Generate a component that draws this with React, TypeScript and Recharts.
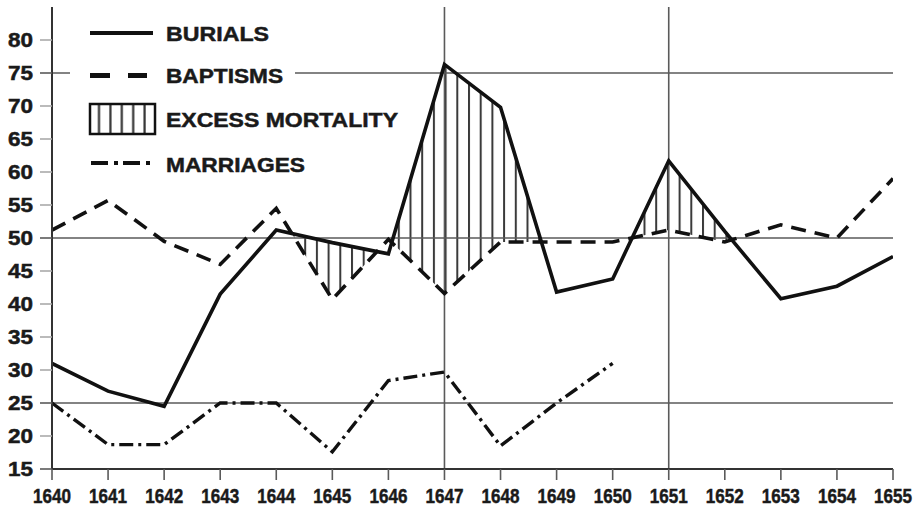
import {
  ComposedChart,
  Area,
  Line,
  XAxis,
  YAxis,
  ReferenceLine,
  Legend,
} from "recharts";

// ── data ─────────────────────────────────────────────────────────────────────

const years = [
  1640, 1641, 1642, 1643, 1644, 1645, 1646, 1647, 1648, 1649, 1650, 1651, 1652,
  1653, 1654, 1655,
];
const burials = [
  31, 26.8, 24.5, 41.5, 51.2, 49.3, 47.6, 76.3, 69.8, 41.8, 43.8, 61.7, 51, 40.8,
  42.7, 47.2,
];
const baptisms = [
  51.2, 55.7, 49.5, 46, 54.5, 40.7, 49.8, 41.6, 49.4, 49.4, 49.4, 51.2, 49.4, 52,
  50, 59,
];
const marriages = [
  25, 18.7, 18.7, 25, 25, 17.6, 28.4, 29.7, 18.5, 25, 31, null, null, null, null,
  null,
];
const yTicks = [15, 20, 25, 30, 35, 40, 45, 50, 55, 60, 65, 70, 75, 80];
const gridValues = [25, 50, 75];
const gridYears = [1647, 1651];
const legendLabels = ["BURIALS", "BAPTISMS", "EXCESS MORTALITY", "MARRIAGES"];

const data = years.map((year, i) => ({
  year,
  burials: burials[i],
  baptisms: baptisms[i],
  marriages: marriages[i],
}));

// ── styles ───────────────────────────────────────────────────────────────────

const INK = "#111";
const GRID = "#5a5a5a";
const FONT = "'Liberation Sans', Arial, Helvetica, sans-serif";

// ── ticks ────────────────────────────────────────────────────────────────────

function YTick({ x, y, payload }: any) {
  const strong = payload.value === 15 || gridValues.includes(payload.value);
  return (
    <g>
      <line
        x1={x}
        x2={x + 12}
        y1={y}
        y2={y}
        stroke={strong ? GRID : "#aaa"}
        strokeWidth={1.6}
      />
      <text
        x={x - 7}
        y={y + 7.3}
        textAnchor="end"
        fontFamily={FONT}
        fontWeight={700}
        fontSize={20}
        fill="#1a1a1a"
        stroke="#1a1a1a"
        strokeWidth={0.5}
        textLength={25}
        lengthAdjust="spacingAndGlyphs"
      >
        {payload.value}
      </text>
    </g>
  );
}

function XTick({ x, y, payload }: any) {
  return (
    <g>
      <line x1={x} x2={x} y1={y - 11} y2={y} stroke={GRID} strokeWidth={1.6} />
      <text
        x={x}
        y={y + 23}
        textAnchor="middle"
        fontFamily={FONT}
        fontWeight={700}
        fontSize={21}
        fill="#1a1a1a"
        stroke="#1a1a1a"
        strokeWidth={0.5}
        textLength={38}
        lengthAdjust="spacingAndGlyphs"
      >
        {payload.value}
      </text>
    </g>
  );
}

// ── legend ───────────────────────────────────────────────────────────────────

function LegendBox() {
  const baselines = [29, 71, 115, 160];
  const widths = [103, 117, 232, 139];
  return (
    <svg width={340} height={170} style={{ display: "block", overflow: "visible" }}>
      <defs>
        <pattern id="hatchLegend" patternUnits="userSpaceOnUse" width={11.4} height={10}>
          <line x1={6.2} x2={6.2} y1={0} y2={10} stroke="#333" strokeWidth={2.2} />
        </pattern>
      </defs>
      <rect x={0} y={0} width={225} height={170} fill="#fff" />
      <line x1={20} x2={83} y1={21} y2={21} stroke={INK} strokeWidth={4.2} />
      <line
        x1={20}
        x2={77}
        y1={63.5}
        y2={63.5}
        stroke={INK}
        strokeWidth={4.8}
        strokeDasharray="20 18"
      />
      <rect
        x={20}
        y={92}
        width={65}
        height={30}
        fill="url(#hatchLegend)"
        stroke={INK}
        strokeWidth={2.5}
      />
      <line
        x1={21}
        x2={81}
        y1={151}
        y2={151}
        stroke={INK}
        strokeWidth={4}
        strokeDasharray="17 6 4 5"
      />
      {legendLabels.map((label, i) => (
        <text
          key={label}
          x={96}
          y={baselines[i]}
          fontFamily={FONT}
          fontWeight={700}
          fontSize={21}
          fill="#1a1a1a"
          stroke="#1a1a1a"
          strokeWidth={0.5}
          textLength={widths[i]}
          lengthAdjust="spacingAndGlyphs"
        >
          {label}
        </text>
      ))}
    </svg>
  );
}

// ── chart ────────────────────────────────────────────────────────────────────

export default function App() {
  return (
    <div
      style={{
        position: "absolute",
        left: 0,
        top: 0,
        width: 916,
        height: 506,
        background: "#fff",
      }}
    >
      <ComposedChart
        width={916}
        height={506}
        data={data}
        margin={{ top: 7, right: 23, bottom: 0, left: 0 }}
      >
        <defs>
          <pattern id="hatch" patternUnits="userSpaceOnUse" width={11.7} height={10}>
            <line x1={1} x2={1} y1={0} y2={10} stroke="#3a3a3a" strokeWidth={2} />
          </pattern>
        </defs>
        <XAxis
          dataKey="year"
          type="number"
          domain={[1640, 1655]}
          ticks={years}
          interval={0}
          height={37}
          tickSize={11}
          tickMargin={0}
          tickLine={false}
          tick={<XTick />}
          axisLine={{ stroke: "#333", strokeWidth: 2 }}
          allowDataOverflow
        />
        <YAxis
          type="number"
          domain={[15, 85]}
          ticks={yTicks}
          interval={0}
          width={52}
          tickSize={12}
          tickMargin={0}
          tickLine={false}
          tick={<YTick />}
          axisLine={{ stroke: "#333", strokeWidth: 2 }}
          allowDataOverflow
        />
        <Area
          dataKey="burials"
          type="linear"
          baseValue={15}
          fill="url(#hatch)"
          fillOpacity={1}
          stroke="none"
          activeDot={false}
          isAnimationActive={false}
          zIndex={100}
        />
        <Area
          dataKey="baptisms"
          type="linear"
          baseValue={15}
          fill="#fff"
          fillOpacity={1}
          stroke="none"
          activeDot={false}
          isAnimationActive={false}
          zIndex={110}
        />
        {gridValues.map((v) => (
          <ReferenceLine key={`y${v}`} y={v} stroke={GRID} strokeWidth={1.6} zIndex={150} />
        ))}
        {gridYears.map((yr) => (
          <ReferenceLine key={`x${yr}`} x={yr} stroke={GRID} strokeWidth={1.6} zIndex={150} />
        ))}
        <Line
          dataKey="marriages"
          type="linear"
          stroke={INK}
          strokeWidth={3.4}
          strokeDasharray="14 5 3 5"
          dot={false}
          activeDot={false}
          isAnimationActive={false}
        />
        <Line
          dataKey="baptisms"
          type="linear"
          stroke={INK}
          strokeWidth={3.6}
          strokeDasharray="15 9"
          dot={false}
          activeDot={false}
          isAnimationActive={false}
        />
        <Line
          dataKey="burials"
          type="linear"
          stroke={INK}
          strokeWidth={3.6}
          dot={false}
          activeDot={false}
          isAnimationActive={false}
        />
        <Legend
          layout="horizontal"
          verticalAlign="middle"
          align="center"
          wrapperStyle={{ left: 70, top: 12, width: 340, height: 170 }}
          content={() => <LegendBox />}
        />
      </ComposedChart>
    </div>
  );
}
